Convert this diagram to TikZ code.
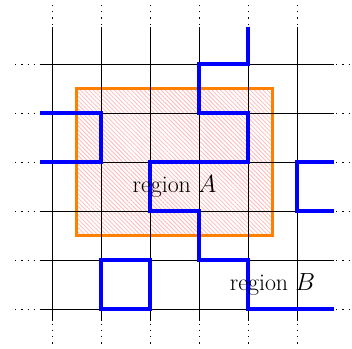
\documentclass[tikz,border=0pt]{standalone}
\usepackage{tikz}
\usetikzlibrary{patterns.meta}
\tikzset{
  gridline/.style={draw=black,line width=0.8pt},
  griddots/.style={draw=black,line width=0.8pt,dash pattern=on 1.2bp off 5bp},
  regionbox/.style={draw=orange,line width=3bp,
    pattern={Lines[angle=-45,distance=3bp,line width=0.8bp]},pattern color=red!28},
  boundary/.style={draw=blue,line width=4.5bp},
  regionlabel/.style={font=\fontsize{24}{28}\selectfont,inner sep=0pt}
}

\begin{document}
\begin{tikzpicture}[x=49bp,y=49bp]
  \useasboundingbox (-1.0612,-0.8163) rectangle (6.1224,6.3061);

  % region A
  \draw[regionbox] (0.5,1.5) rectangle (4.5,4.5);

  % grid
  \foreach \k in {0,...,5} {
    \draw[gridline] (\k,-0.25) -- (\k,5.75);
    \draw[gridline] (-0.25,\k) -- (5.75,\k);
    \draw[griddots] (\k,5.8) -- (\k,6.2);
    \draw[griddots] (\k,-0.3) -- (\k,-0.8);
    \draw[griddots] (-0.75,\k) -- (-0.3,\k);
    \draw[griddots] (5.8,\k) -- (6.2,\k);
  }

  % boundaries
  \draw[boundary] (-0.25,4) -- (1,4) -- (1,3) -- (-0.25,3);
  \draw[boundary] (4,5.75) -- (4,5) -- (3,5) -- (3,4) -- (4,4) -- (4,3) -- (2,3)
    -- (2,2) -- (3,2) -- (3,1) -- (4,1) -- (4,0) -- (5.75,0);
  \draw[boundary] (5.75,3) -- (5,3) -- (5,2) -- (5.75,2);
  \draw[boundary] (1,0) rectangle (2,1);

  \node[regionlabel] (regA) at (2.5,2.5) {region $A$};
  \node[regionlabel] (regB) at (4.5,0.5) {region $B$};
\end{tikzpicture}
\end{document}
